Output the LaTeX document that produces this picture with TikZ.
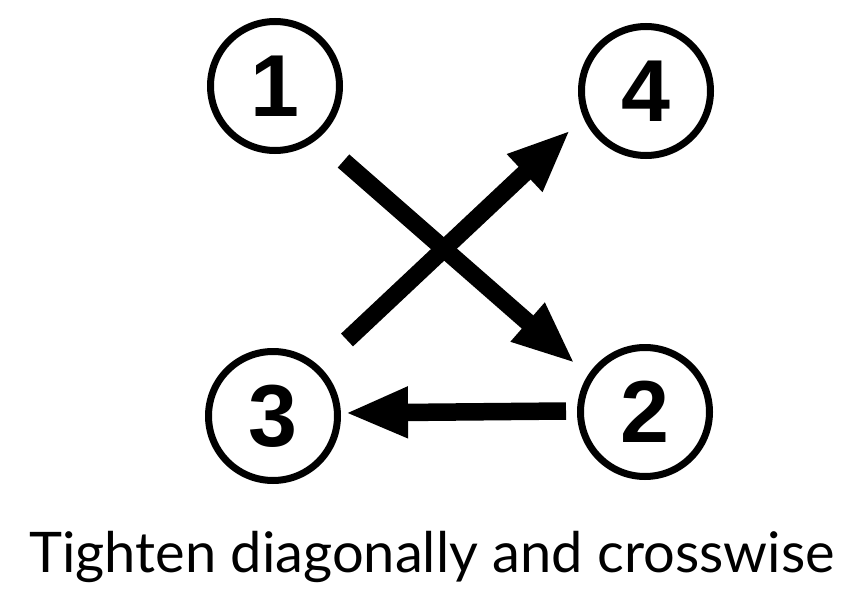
\documentclass[tikz,border=0pt]{standalone}
\usepackage{fontspec}
\setmainfont{Lato}
\newfontfamily\numfont{Liberation Sans}
\usetikzlibrary{arrows.meta}
\begin{document}
\begin{tikzpicture}[x=1pt,y=-1pt,
  num/.style={circle,draw,line width=7pt,minimum size=129pt,inner sep=0pt,font=\numfont\bfseries\fontsize{88}{88}\selectfont},
  bigarrow/.style={line width=17.5pt,-{Triangle[length=63pt,width=47pt]}}]
\useasboundingbox (0,0) rectangle (852,597);
\node[num] (n1) at (275,86) {1};
\node[num] (n4) at (646,91) {4};
\node[num] (n3) at (273,416) {3};
\node[num] (n2) at (645,412) {2};
\coordinate (s12) at (343.5,161);
\coordinate (t12) at (575,363.5);
\coordinate (s34) at (347,340);
\coordinate (t34) at (570.5,130);
\coordinate (s23) at (566,411);
\coordinate (t23) at (345,413);
\draw[bigarrow] (s12) -- (t12);
\draw[bigarrow] (s34) -- (t34);
\draw[bigarrow] (s23) -- (t23);
\node[font=\fontsize{56}{56}\selectfont,anchor=base,inner sep=0pt] (cap) at (432,572) {Tighten diagonally and crosswise};
\end{tikzpicture}
\end{document}
